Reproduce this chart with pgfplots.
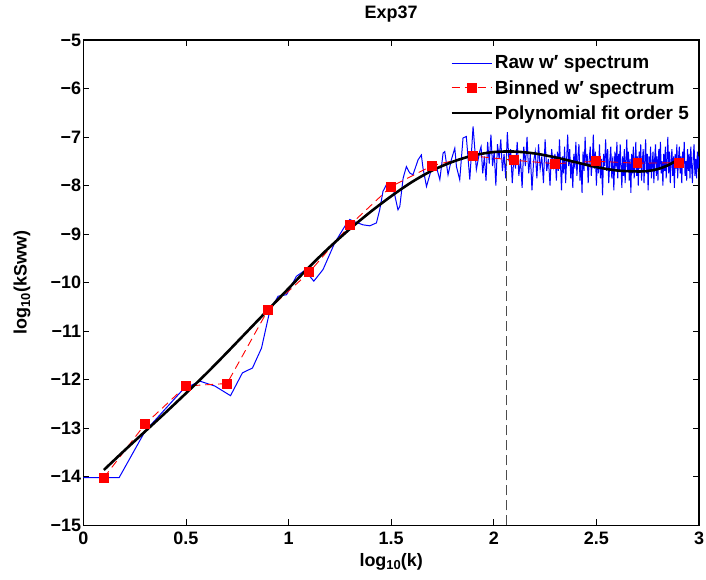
\documentclass[border=0pt]{standalone}
\usepackage{fontspec}
\setmainfont{Liberation Sans}
\usepackage{pgfplots}
\pgfplotsset{compat=1.18}
\newcommand{\ff}{\fontsize{18}{21}\selectfont\bfseries}
\newcommand{\fl}{\fontsize{19}{22}\selectfont\bfseries}
\begin{document}
\begin{tikzpicture}[x=1pt,y=1pt]
\begin{axis}[
  anchor=south west,
  scale only axis, width=616.5pt, height=486pt,
  xmin=0, xmax=3, ymin=-15, ymax=-5,
  xtick={0,0.5,1,1.5,2,2.5,3}, xticklabels={0,0.5,1,1.5,2,2.5,3},
  ytick={-15,-14,-13,-12,-11,-10,-9,-8,-7,-6,-5},
  yticklabels={−15,−14,−13,−12,−11,−10,−9,−8,−7,−6,−5},
  tick align=inside, major tick length=6pt,
  tick style={black, line width=0.8pt},
  axis line style={line width=1.2pt},
  ticklabel style={font=\ff},
  yticklabel style={inner sep=2pt},
  xticklabel style={inner sep=2pt, yshift=-5pt},
  title={Exp37},
  title style={font=\ff, at={(axis description cs:0.5,1.031)}, anchor=base},
  xlabel={log\raisebox{-0.35ex}{\fontsize{13}{15}\selectfont 10}(k)},
  xlabel style={font=\ff, at={(axis description cs:0.5,-0.084)}, anchor=base},
  ylabel={log\raisebox{-0.35ex}{\fontsize{13}{15}\selectfont 10}(kSww)},
  ylabel style={font=\ff, at={(axis description cs:-0.092,0.5)}, anchor=base},
  legend style={draw=none, fill=none, font=\fl, at={(axis description cs:0.591,0.976)}, anchor=north west, row sep=6pt},
  legend cell align=left,
  legend image code/.code={\draw[mark repeat=2,mark phase=2,#1] plot coordinates {(0pt,0pt) (20pt,0pt) (40pt,0pt)};},
]
\addplot[blue, line width=1pt] coordinates {
(0,-14.02) (0.174,-14.02) (0.301,-13.06) (0.486,-12.2) (0.567,-12.03) (0.640,-12.13) (0.717,-12.33)
(0.775,-11.86) (0.824,-11.76) (0.868,-11.35) (0.908,-10.59) (0.949,-10.28) (0.99,-10.25) (1.038,-9.87)
(1.079,-9.75) (1.123,-9.97) (1.168,-9.73) (1.225,-9.18) (1.274,-8.84) (1.298,-8.70) (1.330,-8.76)
(1.363,-8.81) (1.396,-8.83) (1.428,-8.77) (1.444,-8.50) (1.460,-8.12) (1.477,-7.98) (1.501,-7.95)
(1.517,-8.19) (1.533,-8.50) (1.542,-8.43) (1.558,-7.85) (1.574,-7.61) (1.590,-7.74) (1.606,-7.78)
(1.631,-7.47) (1.647,-7.37) (1.655,-7.64) (1.672,-8.02) (1.688,-7.78) (1.704,-7.54) (1.720,-7.61)
(1.737,-7.88) (1.753,-7.33) (1.761,-7.30) (1.777,-7.78) (1.793,-7.47) (1.810,-7.23) (1.818,-7.61)
(1.834,-7.88) (1.850,-7.02) (1.866,-6.99) (1.874,-7.40) (1.883,-7.88) (1.899,-6.78) (1.915,-7.67)
(1.931,-7.30)
(1.938,-7.20) (1.946,-7.75) (1.954,-7.40) (1.962,-7.90) (1.970,-7.10) (1.978,-7.55) (1.986,-6.95)
(1.994,-7.60) (2.002,-7.30) (2.010,-8.00) (2.018,-7.15) (2.026,-7.45) (2.034,-7.05) (2.042,-7.70)
(2.050,-7.35) (2.058,-7.85) (2.066,-6.90) (2.074,-7.50) (2.082,-7.25) (2.090,-7.95) (2.098,-7.40)
(2.106,-7.65) (2.114,-7.10) (2.122,-7.80) (2.130,-7.45) (2.138,-8.05) (2.146,-7.20) (2.154,-7.60)
(2.162,-7.00) (2.170,-7.75) (2.178,-7.35) (2.186,-8.10) (2.194,-7.50) (2.202,-7.30) (2.210,-7.85)
(2.218,-7.15) (2.226,-7.65) (2.234,-7.40) (2.242,-7.95) (2.250,-7.05) (2.258,-7.70) (2.266,-7.45)
(2.274,-8.00) (2.282,-7.25) (2.290,-7.60) (2.298,-7.35)
(2.305,-7.90) (2.310,-7.30) (2.315,-7.70) (2.320,-7.05) (2.325,-7.55) (2.330,-8.10) (2.335,-7.40)
(2.340,-7.75) (2.345,-7.20) (2.350,-7.95) (2.355,-7.45) (2.360,-6.95) (2.365,-7.60) (2.370,-7.25)
(2.375,-7.85) (2.380,-7.50) (2.385,-8.05) (2.390,-7.35) (2.395,-7.65) (2.400,-7.10) (2.405,-7.80)
(2.410,-7.40) (2.415,-7.15) (2.420,-7.90) (2.425,-7.55) (2.430,-8.15) (2.435,-7.30) (2.440,-7.70)
(2.445,-7.00) (2.450,-7.60) (2.455,-7.35) (2.460,-7.95) (2.465,-7.45) (2.470,-7.20) (2.475,-7.80)
(2.480,-7.50) (2.485,-6.95) (2.490,-7.65) (2.495,-7.30) (2.500,-8.00) (2.505,-7.40) (2.510,-7.75)
(2.515,-7.15) (2.520,-7.85) (2.525,-7.45) (2.530,-8.20) (2.535,-7.35) (2.540,-7.60) (2.545,-7.05)
(2.550,-7.70) (2.555,-7.25) (2.560,-7.95) (2.565,-7.50) (2.570,-7.20) (2.575,-7.85) (2.580,-7.40)
(2.585,-8.10) (2.590,-7.30) (2.595,-7.65) (2.600,-7.10)
(2.604,-7.85) (2.608,-7.35) (2.612,-7.70) (2.616,-7.15) (2.620,-7.60) (2.624,-8.05) (2.628,-7.40)
(2.632,-7.80) (2.636,-7.25) (2.640,-7.95) (2.644,-7.50) (2.648,-7.05) (2.652,-7.70) (2.656,-7.30)
(2.660,-7.90) (2.664,-7.45) (2.668,-8.15) (2.672,-7.35) (2.676,-7.75) (2.680,-7.20) (2.684,-7.85)
(2.688,-7.55) (2.692,-7.10) (2.696,-7.80) (2.700,-7.40) (2.704,-8.00) (2.708,-7.30) (2.712,-7.65)
(2.716,-7.15) (2.720,-7.90) (2.724,-7.50) (2.728,-7.25) (2.732,-7.95) (2.736,-7.45) (2.740,-7.05)
(2.744,-7.75) (2.748,-7.35) (2.752,-8.10) (2.756,-7.40) (2.760,-7.70) (2.764,-7.20) (2.768,-7.85)
(2.772,-7.55) (2.776,-7.30) (2.780,-7.95) (2.784,-7.45) (2.788,-7.15) (2.792,-7.80) (2.796,-7.40)
(2.800,-7.90) (2.804,-7.25) (2.808,-7.65) (2.812,-7.10) (2.816,-7.75) (2.820,-7.50) (2.824,-8.00)
(2.828,-7.35) (2.832,-7.70) (2.836,-7.20) (2.840,-7.85) (2.844,-7.45) (2.848,-7.00) (2.852,-7.75)
(2.856,-7.30) (2.860,-7.95) (2.864,-7.50) (2.868,-7.25) (2.872,-7.80) (2.876,-7.40) (2.880,-8.05)
(2.884,-7.35) (2.888,-7.65) (2.892,-7.15) (2.896,-7.85) (2.900,-7.45) (2.904,-7.20) (2.908,-7.75)
(2.912,-7.40) (2.916,-7.95) (2.920,-7.30) (2.924,-7.60) (2.928,-7.10) (2.932,-7.80) (2.936,-7.50)
(2.940,-7.90) (2.944,-7.25) (2.948,-7.70) (2.952,-7.35) (2.956,-7.85) (2.960,-7.20) (2.964,-7.60)
(2.968,-7.95) (2.972,-7.40) (2.976,-7.15) (2.980,-7.80) (2.984,-7.45) (2.988,-7.85) (2.992,-7.30)
(2.996,-7.65) (3.000,-7.40)
};
\addlegendentry{Raw w′ spectrum}
\addplot[red, line width=0.9pt, dash pattern=on 8pt off 5pt, mark=square*, mark size=4.5pt, mark options={solid, fill=red}] coordinates {
(0.1,-14.02) (0.3,-12.92) (0.5,-12.13) (0.7,-12.08) (0.9,-10.56) (1.1,-9.79) (1.3,-8.81)
(1.5,-8.02) (1.7,-7.59) (1.9,-7.39) (2.1,-7.48) (2.3,-7.55) (2.5,-7.50) (2.7,-7.54) (2.9,-7.53)
};
\addlegendentry{Binned w′ spectrum}
\addplot[black, line width=2.6pt, smooth] coordinates {
(0.1,-13.86) (0.2,-13.46) (0.3,-13.07) (0.4,-12.68) (0.5,-12.28) (0.6,-11.87) (0.7,-11.44)
(0.8,-11.00) (0.9,-10.56) (1.0,-10.12) (1.1,-9.68) (1.2,-9.27) (1.3,-8.89) (1.4,-8.54)
(1.5,-8.22) (1.6,-7.93) (1.7,-7.69) (1.8,-7.51) (1.9,-7.38) (2.0,-7.31) (2.1,-7.30)
(2.2,-7.34) (2.3,-7.42) (2.4,-7.52) (2.5,-7.62) (2.6,-7.69) (2.7,-7.71) (2.75,-7.70)
(2.8,-7.66) (2.85,-7.58) (2.9,-7.46)
};
\addlegendentry{Polynomial fit order 5}
\addplot[forget plot, black!70, line width=0.9pt, dash pattern=on 10pt off 5pt] coordinates {(2.06,-15) (2.06,-7.3)};
\end{axis}
\path (-83.5,-54) rectangle (622.5,526);
\end{tikzpicture}
\end{document}
